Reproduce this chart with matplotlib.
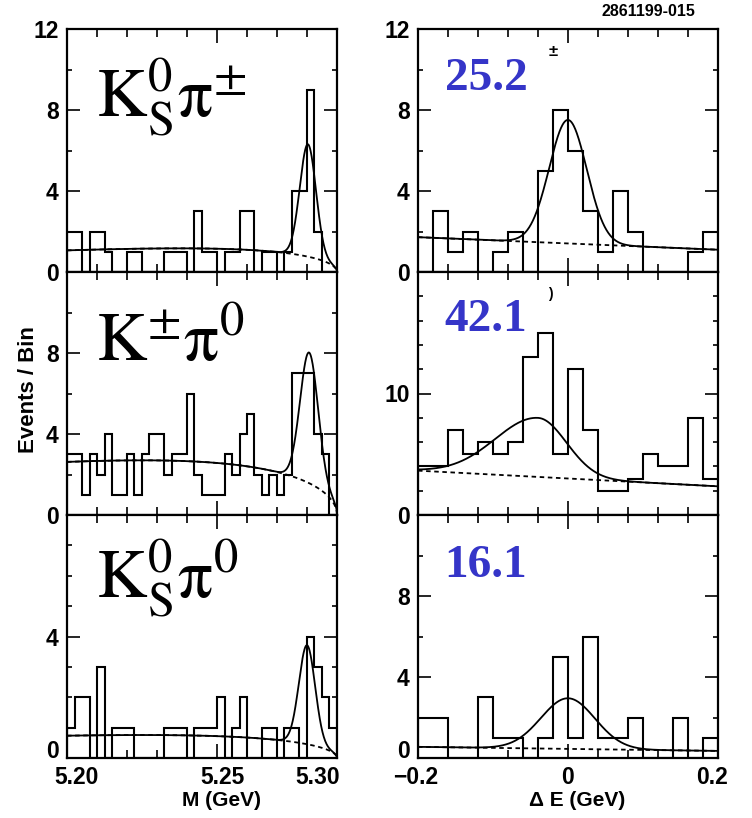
import numpy as np
import matplotlib
matplotlib.use('Agg')
import matplotlib.pyplot as plt
import matplotlib.transforms as mtrans
from matplotlib.ticker import FixedLocator

plt.rcParams['mathtext.fontset'] = 'stix'
plt.rcParams['font.family'] = ['Liberation Sans', 'DejaVu Sans']

# ---------------- data ----------------
m_lo, m_hi, m_nbins = 5.20, 5.29, 36
de_lo, de_hi, de_nbins = -0.2, 0.2, 20

kspi_pm_M = [2, 2, 0, 2, 2, 1, 0, 0, 1, 1, 0, 0, 0, 1, 1, 1, 0, 3,
             1, 1, 0, 1, 1, 3, 3, 0, 1, 1, 0, 1, 4, 4, 9, 2, 0, 0]
kpm_pi0_M = [3, 3, 1, 3, 2, 4, 1, 1, 3, 1, 3, 4, 4, 2, 3, 3, 6, 2,
             1, 1, 1, 3, 2, 4, 5, 2, 1, 2, 1, 2, 7, 7, 7, 4, 3, 0]
ks_pi0_M = [1, 2, 2, 0, 3, 0, 1, 1, 1, 0, 0, 0, 0, 1, 1, 1, 0, 1,
            1, 1, 2, 0, 1, 2, 0, 0, 1, 1, 0, 1, 1, 0, 4, 3, 2, 1]

kspi_pm_dE = [0, 3, 1, 2, 0, 1, 2, 0, 5, 8, 6, 3, 1, 4, 2, 0, 0, 0, 1, 2]
kpm_pi0_dE = [4, 4, 7, 5, 6, 5, 6, 13, 15, 5, 12, 7, 2, 2, 3, 5, 4, 4, 8, 3]
ks_pi0_dE = [2, 2, 0, 0, 3, 1, 1, 0, 1, 5, 1, 6, 1, 1, 2, 0, 0, 2, 0, 1]

channel_labels = [r'$\mathrm{K}^{0}_{\mathrm{S}}\mathrm{\pi}^{\pm}$',
                  r'$\mathrm{K}^{\pm}\mathrm{\pi}^{0}$',
                  r'$\mathrm{K}^{0}_{\mathrm{S}}\mathrm{\pi}^{0}$']
yields = ['25.2', '42.1', '16.1']

# fit parameters (M: Gaussian + ARGUS, dE: Gaussian + linear)
E_beam = 5.29
m_peak = [5.2803, 5.2807, 5.2800]
m_sigma = [0.0027, 0.0030, 0.0027]
m_amp = [5.55, 6.45, 3.26]
argus_c = [-25, -20, -20]
argus_at_525 = [1.15, 2.57, 0.72]

de_peak = [0.0, -0.04, 0.0]
de_sig_left = [0.025, 0.057, 0.036]
de_sig_right = [0.025, 0.038, 0.036]
de_amp = [6.1, 4.86, 2.5]
de_bkg_lo = [1.72, 3.65, 0.55]
de_bkg_hi = [1.10, 2.36, 0.35]

# axis settings
m_ymax = [12, 12, 8]
m_ymajor = [[0, 4, 8, 12], [0, 4, 8, 12], [0, 4, 8]]
m_ylabels = [['0', '4', '8', '12'], ['0', '4', '8', ''], ['0', '4', '']]
m_yminor_step = [2, 2, 1]
de_ymax = [12, 20, 12]
de_ymajor = [[0, 4, 8, 12], [0, 10, 20], [0, 4, 8, 12]]
de_ylabels = [['0', '4', '8', '12'], ['0', '10', ''], ['0', '4', '8', '']]
de_yminor_step = [2, 2, 2]

m_xticks = [5.20, 5.25, 5.29]
m_xticklabels = ['5.20', '5.25', '5.30']
de_xticks = [-0.2, 0.0, 0.2]
de_xticklabels = ['\u22120.2', '0', '0.2']

# ---------------- figure ----------------
W, H = 752, 818
fig = plt.figure(figsize=(W / 100, H / 100), dpi=100)
rows_px = [(29, 272), (272, 515), (515, 758)]
cols_px = [(67, 337), (418, 718)]


def add_ax(r, c):
    x0, x1 = cols_px[c]
    y0, y1 = rows_px[r]
    return fig.add_axes([x0 / W, 1 - y1 / H, (x1 - x0) / W, (y1 - y0) / H])


def argus(m, c):
    x = m / E_beam
    z = np.clip(1 - x ** 2, 0, None)
    return m * np.sqrt(z) * np.exp(c * z)


def shift(lab, dx, dy):
    lab.set_transform(lab.get_transform() +
                      mtrans.ScaledTranslation(dx / 100, dy / 100, fig.dpi_scale_trans))


def style(ax):
    for s in ax.spines.values():
        s.set_linewidth(1.6)
    ax.tick_params(which='both', direction='in', top=True, right=True,
                   width=1.2, labelsize=16.5, pad=6)
    ax.tick_params(axis='y', which='major', length=9.5)
    ax.tick_params(axis='y', which='minor', length=3.5)
    ax.tick_params(axis='x', which='major', length=10)
    ax.tick_params(axis='x', which='minor', length=6)
    for lab in ax.get_yticklabels() + ax.get_xticklabels():
        lab.set_fontweight('bold')


m_hists = [kspi_pm_M, kpm_pi0_M, ks_pi0_M]
de_hists = [kspi_pm_dE, kpm_pi0_dE, ks_pi0_dE]
m_edges = np.linspace(m_lo, m_hi, m_nbins + 1)
de_edges = np.linspace(de_lo, de_hi, de_nbins + 1)
mm = np.linspace(m_lo, m_hi, 800)
dd = np.linspace(de_lo, de_hi, 800)

lab_baselines = [117, 361, 598]
yield_centers = [79, 320, 566]

for r in range(3):
    # ---- M panel ----
    ax = add_ax(r, 0)
    ax.stairs(m_hists[r], m_edges, color='k', lw=1.5)
    bkg = argus_at_525[r] * argus(mm, argus_c[r]) / argus(5.25, argus_c[r])
    sig = m_amp[r] * np.exp(-0.5 * ((mm - m_peak[r]) / m_sigma[r]) ** 2)
    ax.plot(mm, bkg, color='k', lw=1.3, dashes=(2.5, 2))
    ax.plot(mm, bkg + sig, color='k', lw=1.3)
    ax.set_xlim(m_lo, m_hi)
    ax.set_ylim(0, m_ymax[r])
    ax.yaxis.set_major_locator(FixedLocator(m_ymajor[r]))
    ax.set_yticklabels(m_ylabels[r])
    ax.yaxis.set_minor_locator(FixedLocator(np.arange(0, m_ymax[r] + 0.01, m_yminor_step[r])))
    ax.xaxis.set_major_locator(FixedLocator(m_xticks))
    ax.xaxis.set_minor_locator(FixedLocator(np.round(np.arange(5.20, 5.2901, 0.01), 3)))
    if r == 2:
        ax.set_xticklabels(m_xticklabels)
    else:
        ax.tick_params(axis='x', labelbottom=False)
    style(ax)
    if r == 2:
        for lab, dx in zip(ax.get_xticklabels(), [10, 5, -19]):
            shift(lab, dx, 0)
        shift(ax.get_yticklabels()[0], 0, 9)
    fig.text(96 / W, 1 - lab_baselines[r] / H, channel_labels[r], fontsize=50,
             ha='left', va='baseline', color='k')

    # ---- dE panel ----
    ax = add_ax(r, 1)
    ax.stairs(de_hists[r], de_edges, color='k', lw=1.5)
    lin = de_bkg_lo[r] + (de_bkg_hi[r] - de_bkg_lo[r]) * (dd - de_lo) / (de_hi - de_lo)
    sg = np.where(dd < de_peak[r], de_sig_left[r], de_sig_right[r])
    gs = de_amp[r] * np.exp(-0.5 * ((dd - de_peak[r]) / sg) ** 2)
    ax.plot(dd, lin, color='k', lw=1.3, dashes=(2.5, 2))
    ax.plot(dd, lin + gs, color='k', lw=1.3)
    ax.set_xlim(de_lo, de_hi)
    ax.set_ylim(0, de_ymax[r])
    ax.yaxis.set_major_locator(FixedLocator(de_ymajor[r]))
    ax.set_yticklabels(de_ylabels[r])
    ax.yaxis.set_minor_locator(FixedLocator(np.arange(0, de_ymax[r] + 0.01, de_yminor_step[r])))
    ax.xaxis.set_major_locator(FixedLocator(de_xticks))
    ax.xaxis.set_minor_locator(FixedLocator(np.round(np.arange(-0.2, 0.2001, 0.04), 3)))
    if r == 2:
        ax.set_xticklabels(de_xticklabels)
    else:
        ax.tick_params(axis='x', labelbottom=False)
    style(ax)
    if r == 2:
        for lab, dx in zip(ax.get_xticklabels(), [-2, 0, -6]):
            shift(lab, dx, 0)
        shift(ax.get_yticklabels()[0], 0, 9)
    fig.text(486 / W, 1 - yield_centers[r] / H, yields[r], fontsize=34,
             family=['Liberation Serif', 'DejaVu Serif'], fontweight='bold',
             color='#3535c8', ha='center', va='center')

# small fragments seen in the reference
fig.text(553 / W, 1 - 52 / H, '\u00b1', fontsize=12, fontweight='bold',
         ha='center', va='center')
fig.text(550 / W, 1 - 294 / H, ')', fontsize=10, fontweight='bold',
         ha='center', va='center')

fig.text(28 / W, 1 - 390 / H, 'Events / Bin', rotation=90, fontsize=16,
         fontweight='bold', ha='center', va='center')
fig.text(221 / W, 1 - 800 / H, 'M (GeV)', fontsize=15, fontweight='bold',
         ha='center', va='center')
fig.text(577 / W, 1 - 800 / H, '\u0394 E (GeV)', fontsize=15, fontweight='bold',
         ha='center', va='center')
fig.text(648 / W, 1 - 12 / H, '2861199-015', fontsize=11.5, fontweight='bold',
         ha='center', va='center')

fig.savefig('out.png', dpi=100)
